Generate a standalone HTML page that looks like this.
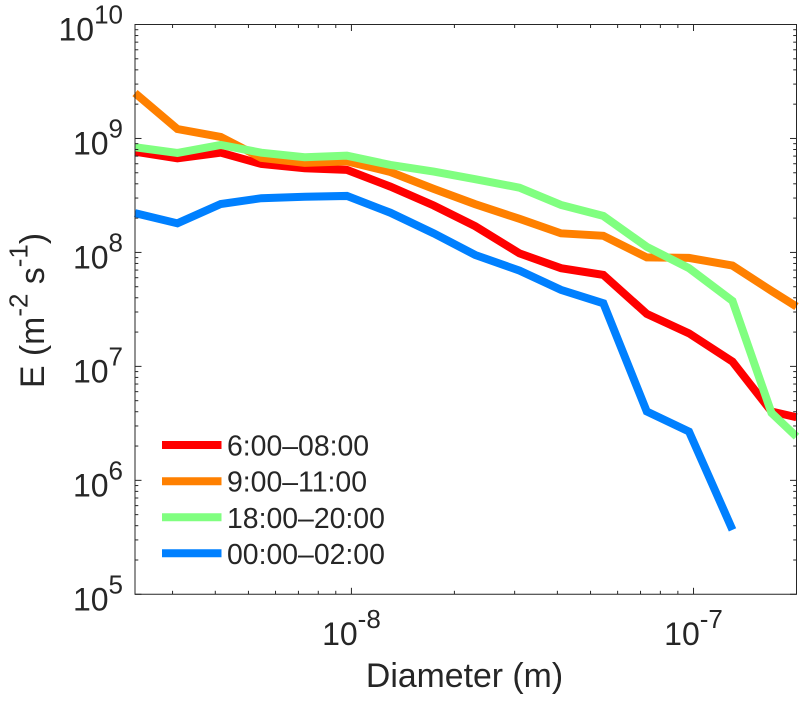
<!DOCTYPE html>
<html>
<head>
<meta charset="utf-8">
<style>
html,body{margin:0;padding:0;background:#fff;}
svg{display:block;}
text{font-family:"Liberation Sans",Arial,sans-serif;fill:#262626;}
</style>
</head>
<body>
<svg id="chart" xmlns="http://www.w3.org/2000/svg" width="806" height="702" viewBox="0 0 806 702">
  <g id="series-layer"></g>
  <g id="axes-layer"></g>
  <text x="464.5" y="687" font-size="33.8" text-anchor="middle">Diameter (m)</text>
  <text transform="translate(44,388) rotate(-90)" font-size="33.8">E (m<tspan font-size="26" dy="-16.5">-2</tspan><tspan dy="16.5"> s</tspan><tspan font-size="26" dy="-16.5">-1</tspan><tspan dy="16.5">)</tspan></text>
  <g id="legend"></g>
</svg>
<script>
var diametersNm = [2.33, 3.1, 4.15, 5.45, 7.3, 9.7, 13, 17.4, 23, 31, 41, 54.5, 73, 97, 130, 169, 200];
var seriesRed = [7.66e8, 6.7e8, 7.5e8, 5.97e8, 5.48e8, 5.3e8, 3.78e8, 2.58e8, 1.7e8, 9.8e7, 7.27e7, 6.35e7, 2.89e7, 1.95e7, 1.10e7, 4.02e6, 3.58e6];
var seriesOrange = [2.5e9, 1.21e9, 1.03e9, 6.75e8, 6.1e8, 6.3e8, 5.08e8, 3.61e8, 2.65e8, 1.97e8, 1.47e8, 1.40e8, 9.04e7, 8.95e7, 7.66e7, 4.6e7, 3.35e7];
var seriesGreen = [8.37e8, 7.46e8, 8.77e8, 7.5e8, 6.84e8, 7.06e8, 5.86e8, 5.12e8, 4.39e8, 3.7e8, 2.61e8, 2.09e8, 1.12e8, 7.27e7, 3.75e7, 3.91e6, 2.42e6];
var seriesBlue = [2.21e8, 1.8e8, 2.66e8, 2.99e8, 3.08e8, 3.13e8, 2.23e8, 1.47e8, 9.5e7, 6.92e7, 4.69e7, 3.58e7, 4.02e6, 2.68e6, 3.68e5];
var legendLabels = ["6:00\u201308:00", "9:00\u201311:00", "18:00\u201320:00", "00:00\u201302:00"];
var seriesColors = ["#ff0000", "#ff8000", "#80ff80", "#0080ff"];
var yTickExponents = [10, 9, 8, 7, 6, 5];
var xTickExponents = [-8, -7];

var NS = "http://www.w3.org/2000/svg";
var LEFT = 135, RIGHT = 796.5, TOP = 24.5, BOTTOM = 594.3;
var X_MIN_NM = 2.33, X_MAX_NM = 200;
var Y_MIN_EXP = 5, Y_MAX_EXP = 10;

function xScale(nm) {
  var lo = Math.log10(X_MIN_NM), hi = Math.log10(X_MAX_NM);
  return LEFT + (Math.log10(nm) - lo) / (hi - lo) * (RIGHT - LEFT);
}
function yScale(v) {
  return BOTTOM - (Math.log10(v) - Y_MIN_EXP) / (Y_MAX_EXP - Y_MIN_EXP) * (BOTTOM - TOP);
}
function make(tag, attrs, parent) {
  var el = document.createElementNS(NS, tag);
  for (var k in attrs) { el.setAttribute(k, attrs[k]); }
  parent.appendChild(el);
  return el;
}

var seriesLayer = document.getElementById("series-layer");
var axesLayer = document.getElementById("axes-layer");
var legend = document.getElementById("legend");

var allSeries = [seriesRed, seriesOrange, seriesGreen, seriesBlue];
var seriesNames = ["series-6-8h", "series-9-11h", "series-18-20h", "series-0-2h"];
allSeries.forEach(function (values, s) {
  var pts = values.map(function (v, i) {
    return xScale(diametersNm[i]).toFixed(2) + "," + yScale(v).toFixed(2);
  }).join(" ");
  var line = make("polyline", {points: pts, fill: "none", stroke: seriesColors[s], "stroke-width": 8, "stroke-linejoin": "miter", "stroke-linecap": "butt"}, seriesLayer);
  
  
});

var frame = make("path", {d: "M" + LEFT + " " + TOP + "H" + RIGHT + "V" + BOTTOM + "H" + LEFT + "Z", fill: "none", stroke: "#262626", "stroke-width": 1}, axesLayer);



function tick(x1, y1, x2, y2, name) {
  var t = make("line", {x1: x1, y1: y1, x2: x2, y2: y2, stroke: "#262626", "stroke-width": 1}, axesLayer);
  
  
}

// y ticks, major and minor, on both sides
yTickExponents.forEach(function (e) {
  var y = yScale(Math.pow(10, e));
  tick(LEFT, y, LEFT + 6.5, y, "y-major-tick");
  tick(RIGHT, y, RIGHT - 6.5, y, "y-major-tick");
  if (e > Y_MIN_EXP) {
    for (var m = 2; m <= 9; m++) {
      var ym = yScale(m * Math.pow(10, e - 1));
      tick(LEFT, ym, LEFT + 3.3, ym, "y-minor-tick");
      tick(RIGHT, ym, RIGHT - 3.3, ym, "y-minor-tick");
    }
  }
  var label = make("text", {x: 123, y: y + 16, "font-size": 32, "text-anchor": "end"}, axesLayer);
  
  
  label.appendChild(document.createTextNode("10"));
  var sup = make("tspan", {"font-size": 26, dy: -17}, label);
  sup.textContent = String(e);
});

// x ticks, major and minor, on top and bottom
[-9, -8, -7].forEach(function (e) {
  for (var m = 1; m <= 9; m++) {
    var nm = m * Math.pow(10, e + 9);
    if (nm < X_MIN_NM || nm >= X_MAX_NM) { continue; }
    var x = xScale(nm);
    var len = m === 1 ? 6.5 : 3.5;
    var nameTick = m === 1 ? "x-major-tick" : "x-minor-tick";
    tick(x, BOTTOM, x, BOTTOM - len, nameTick);
    tick(x, TOP, x, TOP + len, nameTick);
  }
});
xTickExponents.forEach(function (e) {
  var x = xScale(Math.pow(10, e + 9));
  var label = make("text", {x: x, y: 645, "font-size": 32, "text-anchor": "middle"}, axesLayer);
  
  
  label.appendChild(document.createTextNode("10"));
  var sup = make("tspan", {"font-size": 26, dy: -17}, label);
  sup.textContent = String(e);
});

// legend
var legendRowY = [445, 481.2, 517.3, 553.3];
legendLabels.forEach(function (txt, i) {
  var sw = make("line", {x1: 162, y1: legendRowY[i], x2: 221.5, y2: legendRowY[i], stroke: seriesColors[i], "stroke-width": 8}, legend);
  
  
  var t = make("text", {x: 227, y: legendRowY[i] + 10.5, "font-size": 28.4}, legend);
  
  
  t.textContent = txt;
});
</script>
</body>
</html>
